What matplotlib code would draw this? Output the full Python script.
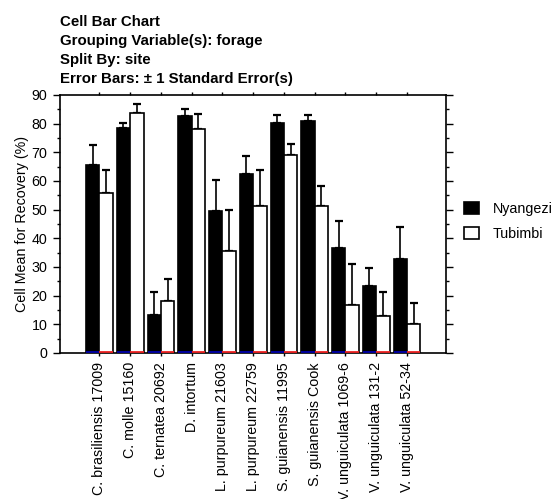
import matplotlib
matplotlib.use("Agg")
import matplotlib.pyplot as plt
import numpy as np
from matplotlib.patches import Patch

categories = ["C. brasiliensis 17009", "C. molle 15160", "C. ternatea 20692",
              "D. intortum", "L. purpureum 21603", "L. purpureum 22759",
              "S. guianensis 11995", "S. guianensis Cook", "V. unguiculata 1069-6",
              "V. unguiculata 131-2", "V. unguiculata 52-34"]
nyangezi = [65.7, 78.5, 13.4, 82.7, 49.4, 62.3, 80.3, 80.9, 36.6, 23.4, 32.7]
nyangezi_top = [72.7, 80.3, 21.4, 85.1, 60.5, 68.6, 83.1, 83.1, 46.0, 29.5, 44.1]
tubimbi = [55.9, 83.6, 18.0, 78.3, 35.6, 51.2, 69.0, 51.2, 16.9, 12.9, 10.0]
tubimbi_top = [63.7, 87.0, 25.8, 83.2, 49.8, 63.7, 73.0, 58.4, 31.2, 21.4, 17.5]
series_names = ["Nyangezi", "Tubimbi"]

plt.rcParams['font.family'] = ['Liberation Sans', 'DejaVu Sans']

W, H = 556, 499
fig = plt.figure(figsize=(W / 100, H / 100), dpi=100)
ax = fig.add_axes([60 / W, 1 - 353 / H, (446 - 60) / W, (353 - 95) / H])

x = np.arange(len(categories))
bw = 0.435
ny_err = np.array(nyangezi_top) - np.array(nyangezi)
tu_err = np.array(tubimbi_top) - np.array(tubimbi)

ax.bar(x - bw / 2, nyangezi, bw, color="black", edgecolor="black", linewidth=1.2, zorder=2)
ax.bar(x + bw / 2, tubimbi, bw, color="white", edgecolor="black", linewidth=1.2, zorder=2)
ax.errorbar(x - bw / 2, nyangezi, yerr=[np.zeros_like(ny_err), ny_err], fmt="none",
            ecolor="black", elinewidth=1.2, capsize=2.6, capthick=1.6, zorder=1)
ax.errorbar(x + bw / 2, tubimbi, yerr=[np.zeros_like(tu_err), tu_err], fmt="none",
            ecolor="black", elinewidth=1.2, capsize=2.6, capthick=1.6, zorder=1)
# thin coloured base lines
ax.hlines([0.35] * len(x), x - bw, x, colors="#0000aa", linewidth=1.3, zorder=3)
ax.hlines([0.35] * len(x), x, x + bw, colors="#ee2222", linewidth=1.3, zorder=3)

ax.set_xlim(-1.28, 11.27)
ax.set_ylim(0, 90)
ax.set_yticks(np.arange(0, 91, 10))
ax.set_yticks(np.arange(0, 91, 5), minor=True)
ax.set_xticks(x)
ax.set_xticklabels(categories, rotation=90, fontsize=10.3)
ax.tick_params(axis="y", which="major", direction="out", length=5, width=1,
               labelsize=10.3, pad=4, right=True)
ax.tick_params(axis="y", which="minor", direction="out", length=2.5, width=1, right=True)
ax.tick_params(axis="x", which="major", direction="out", length=2.5, width=1,
               top=True, pad=4)
for s in ax.spines.values():
    s.set_linewidth(1.2)

ax.set_ylabel("Cell Mean for Recovery (%)", fontsize=10.3, labelpad=2)

title_lines = ["Cell Bar Chart", "Grouping Variable(s): forage", "Split By: site",
               "Error Bars: \u00b1 1 Standard Error(s)"]
for i, t in enumerate(title_lines):
    fig.text(60 / W, 1 - (22.5 + 18.7 * i) / H, t, fontsize=10.8, fontweight="bold",
             ha="left", va="center")

handles = [Patch(facecolor="black", edgecolor="black", linewidth=1.2),
           Patch(facecolor="white", edgecolor="black", linewidth=1.2)]
fig.legend(handles, series_names, loc="upper left", bbox_to_anchor=(464 / W, 1 - 202 / H),
           frameon=False, fontsize=10.3, handlelength=1.05, handleheight=0.95,
           handletextpad=0.95, labelspacing=0.75, borderpad=0, borderaxespad=0)

fig.savefig("out.png", dpi=100)
